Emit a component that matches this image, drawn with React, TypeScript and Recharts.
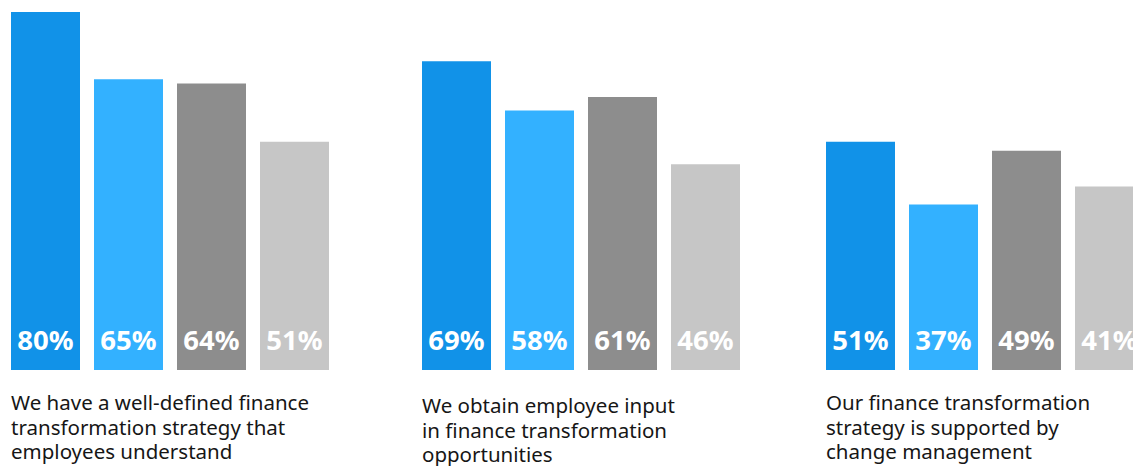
import { BarChart, Bar, XAxis, YAxis, LabelList } from "recharts";

// captions under each group, one string per line
const captions = [
  ["We have a well-defined finance", "transformation strategy that", "employees understand"],
  ["We obtain employee input", "in finance transformation", "opportunities"],
  ["Our finance transformation", "strategy is supported by", "change management"],
];

const seriesA = [80, 69, 51];
const seriesB = [65, 58, 37];
const seriesC = [64, 61, 49];
const seriesD = [51, 46, 41];

const seriesKeys = ["a", "b", "c", "d"];
const colors = ["#1192e8", "#33b1ff", "#8d8d8d", "#c6c6c6"];

const data = captions.map((lines, i) => ({
  name: lines.join(" "),
  idx: i,
  a: seriesA[i],
  b: seriesB[i],
  c: seriesC[i],
  d: seriesD[i],
}));

// left edge of each bar group on the page
const groupLeft = [11, 422, 826];
const CHART_W = 340;

const FONT = "'Noto Sans', sans-serif";

const CaptionTick = (props: any) => {
  const { x, y, lines, dyFirst } = props;
  const left = x - 159;
  return (
    <text x={left} y={y} fill="#161616" fontSize={20.5} fontFamily={FONT}>
      {lines.map((line: string, i: number) => (
        <tspan key={i} x={left} dy={i === 0 ? dyFirst : 24.5}>
          {line}
        </tspan>
      ))}
    </text>
  );
};

const ValueLabel = (props: any) => {
  const { x, y, width, height, value } = props;
  return (
    <text
      x={x + width / 2}
      y={y + height - 20}
      textAnchor="middle"
      fill="#ffffff"
      fontSize={27.5}
      fontWeight={700}
      fontFamily={FONT}
    >
      {value}%
    </text>
  );
};

export default function App() {
  return (
    <div
      style={{
        position: "fixed",
        left: 0,
        top: 0,
        width: 1133,
        height: 466,
        overflow: "hidden",
        background: "#fff",
      }}
    >
      {data.map((row, g) => (
        <div key={row.name} style={{ position: "absolute", left: groupLeft[g] - 11, top: 0 }}>
          <BarChart
            width={CHART_W}
            height={466}
            data={[row]}
            margin={{ top: 12, right: 0, left: 0, bottom: 0 }}
            barSize={69}
            barGap={14}
          >
            <XAxis
              dataKey="name"
              axisLine={false}
              tickLine={false}
              height={96}
              interval={0}
              tick={<CaptionTick lines={captions[g]} dyFirst={g === 1 ? 35 : 32} />}
            />
            <YAxis hide domain={[0, 80]} />
            {seriesKeys.map((key, i) => (
              <Bar key={key} dataKey={key} fill={colors[i]} isAnimationActive={false}>
                <LabelList dataKey={key} content={<ValueLabel />} />
              </Bar>
            ))}
          </BarChart>
        </div>
      ))}
    </div>
  );
}
